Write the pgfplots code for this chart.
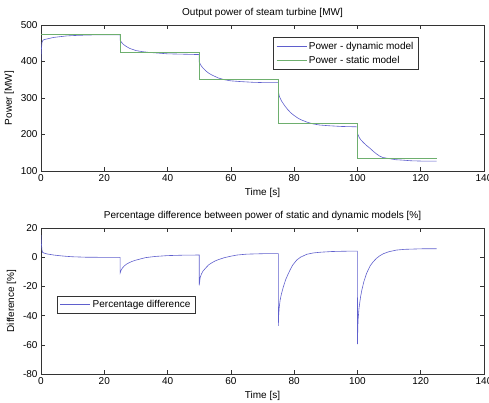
\documentclass[border=0pt]{standalone}
\usepackage{fontspec}
\setmainfont{Liberation Sans}
\usepackage{pgfplots}
\pgfplotsset{compat=1.18}
\definecolor{dyn}{RGB}{95,95,205}
\definecolor{sta}{RGB}{110,175,110}
\pgfplotsset{
  mlab/.style={
    scale only axis, width=443pt, height=146pt,
    xmin=0, xmax=140, xtick={0,20,...,140},
    tick align=inside, tick pos=both, major tick length=4pt,
    axis line style={black!80}, every tick/.style={black!80, line width=0.5pt},
    /pgf/number format/assume math mode=true,
    ticklabel style={font=\fontsize{10}{12}\selectfont},
    label style={font=\fontsize{10}{12}\selectfont},
    title style={font=\fontsize{10}{12}\selectfont, yshift=-2pt},
    xlabel={Time [s]},
    legend cell align=left,
    legend style={draw=black!80, font=\fontsize{10}{12}\selectfont, inner xsep=3pt, inner ysep=3pt, row sep=1pt},
    legend image code/.code={\draw[#1] (0pt,0pt) -- (30pt,0pt);},
  }
}
\begin{document}
\begin{tikzpicture}[x=1pt,y=1pt]
\path[use as bounding box] (0,0) rectangle (489,402);
\begin{axis}[mlab, at={(41pt,231pt)}, anchor=south west,
  ymin=100, ymax=500, ytick={100,200,...,500},
  ylabel={Power [MW]},
  title={Output power of steam turbine [MW]},
  legend style={at={(0.524,0.918)}, anchor=north west}]
\addplot[dyn, line width=0.6pt] coordinates {
(0,403)(0.1,430)(0.3,452)(0.6,458)(1,460)(2,462)(3,464)(4,466)(6,468)(8,470)(10,471)(13,472)(17,473)(21,473)(25,473)
(25.02,458)(25.5,452)(26,447)(27,441)(28,436)(29,433)(30,430)(32,427)(34,425)(37,423)(40,421)(45,420)(50,419)
(50.02,398)(50.5,390)(51,384)(52,375)(53,368)(54,363)(55,359)(56,355)(58,350)(60,347)(63,345)(67,343)(71,342)(75,342)
(75.02,318)(75.3,305)(76,292)(77,279)(78,268)(79,259)(80,252)(81,246)(82,241)(84,234)(86,229)(88,226)(91,224)(95,222)(100,221)
(100.02,203)(100.5,193)(101,186)(102,177)(103,169)(104,162)(105,154)(106,147)(107,141)(108,137)(110,134)(112,131)(114,130)(117,128)(121,127)(125,127)
};
\addlegendentry{Power - dynamic model}
\addplot[sta, line width=0.6pt] coordinates {
(0,474)(25,474)(25,425)(50,425)(50,350)(75,350)(75,230)(100,230)(100,135)(125,135)
};
\addlegendentry{Power - static model}
\end{axis}
\begin{axis}[mlab, at={(41pt,28pt)}, anchor=south west,
  ymin=-80, ymax=20, ytick={-80,-60,...,20},
  ylabel={Difference [\%]},
  title={Percentage difference between power of static and dynamic models [\%]},
  legend style={at={(0.036,0.534)}, anchor=north west, inner ysep=2pt}]
\addplot[dyn, line width=0.6pt] coordinates {
(0,15.2)(0.1,10)(0.3,5)(0.5,3.3)(1,2.8)(2,2.2)(4,1.5)(6,1.0)(8,0.6)(10,0.3)(14,0)(20,-0.1)(25,-0.1)
(25.01,-10.8)(25.3,-9)(25.7,-7.5)(26.3,-6)(27,-4.8)(28,-3.6)(29,-2.7)(30,-2)(33,-0.3)(36,0.5)(40,1.1)(45,1.4)(50,1.5)
(50.01,-19.2)(50.3,-14)(50.7,-11.5)(51.2,-9.5)(52,-7.5)(53,-5.2)(54,-3.8)(55,-2.6)(56,-1.7)(58,-0.3)(60,0.7)(62,1.5)(65,2.1)(70,2.4)(75,2.5)
(75.01,-47)(75.1,-40)(75.3,-34)(75.6,-29)(76,-25)(76.6,-20.2)(77.3,-15.5)(78,-12)(78.7,-8.8)(79.5,-5.5)(80.8,-2)(82,0)(84,2)(86,2.9)(88.2,3.4)(92,3.9)(96,4.1)(100,4.2)
(100.01,-59.5)(100.1,-50)(100.2,-43)(100.5,-35)(101,-27)(101.4,-22.5)(102,-17)(102.9,-11)(104,-6)(105,-3.1)(106,-0.8)(107,0.9)(108.2,2.4)(110,3.8)(112.4,4.9)(115,5.4)(118,5.6)(121,5.8)(125,5.8)
};
\addlegendentry{Percentage difference}
\end{axis}
\end{tikzpicture}
\end{document}
